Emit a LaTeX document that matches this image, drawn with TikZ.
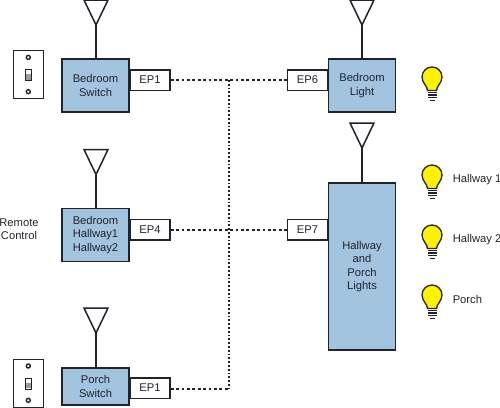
\documentclass[tikz,border=0pt]{standalone}
\usepackage{fontspec}
\setmainfont{Liberation Sans}
\usepackage{tikz}
\definecolor{boxblue}{HTML}{A3C4DF}
\definecolor{linedark}{HTML}{20232B}
\definecolor{bulbyellow}{HTML}{FFF200}

\begin{document}
\begin{tikzpicture}[x=1pt,y=-1pt,line width=1.5pt,
    every node/.style={text=linedark,font=\fontsize{11.2}{13.5}\selectfont,align=center},
    pics/antenna/.style={code={
      \draw[linedark,line join=miter] (-12,0) -- (12,0) -- (0,25) -- cycle;
      \coordinate (-apex) at (0,25);
    }},
    pics/bulb/.style={code={
      \draw[linedark,fill=bulbyellow,line width=1.3pt] (-4.5,12.5) .. controls (-4.5,8) and (-10,5) .. (-10,-1)
        arc (180:360:10) .. controls (10,5) and (4.5,8) .. (4.5,12.5) -- cycle;
      \foreach \y in {14.5,17,19.5} \draw[linedark,line width=1.4pt] (-4.5,\y) -- (4.5,\y);
      \draw[linedark,line width=1.6pt] (-2.5,22.5) -- (2.5,22.5);
    }},
    pics/plate/.style={code={
      \draw[linedark] (-15,-24) rectangle (15,24);
      \draw[linedark,line width=1.4pt] (0,-17.3) circle (2);
      \draw[linedark,line width=1.4pt] (0,17) circle (2);
      \draw[linedark,line width=0.6pt,fill=white] (-2.7,-5.5) rectangle (2.7,5.5);
      \fill[linedark!45] (-2.2,-0.5) rectangle (2.2,5);
    }}]
  \tikzstyle{unit}=[rectangle,draw=linedark,fill=boxblue,minimum width=67pt,minimum height=53pt,inner sep=0pt]
  \tikzstyle{endpoint}=[rectangle,draw=linedark,fill=white,minimum width=40pt,minimum height=20.5pt,inner sep=0pt]
  \tikzstyle{link}=[linedark,line width=1.2pt,dash pattern=on 2.8pt off 2.6pt]
  \tikzstyle{buslink}=[linedark,line width=1.2pt,dash pattern=on 1.8pt off 2pt]
  \tikzstyle{caption}=[inner sep=0pt]
  \clip (0,0) rectangle (500,407);

  % left column
  \node[endpoint] (ep1a) at (150,80) {EP1};
  \node[unit] (bedswitch) at (95.5,85.5) {Bedroom\\Switch};
  \pic (antA) at (96,0) {antenna};
  \draw[linedark] (antA-apex) -- (bedswitch.north -| antA-apex);
  \pic at (28.3,74.7) {plate};

  \node[endpoint] (ep4) at (150,229.9) {EP4};
  \node[unit] (remote) at (95.5,235) {Bedroom\\Hallway1\\Hallway2};
  \pic (antB) at (96,149.5) {antenna};
  \draw[linedark] (antB-apex) -- (remote.north -| antB-apex);
  \node[caption] (remotelabel) at (19,229) {Remote\\Control};

  \node[endpoint] (ep1b) at (150,388) {EP1};
  \node[unit,minimum height=37pt] (porchswitch) at (95.5,386.5) {Porch\\Switch};
  \pic (antC) at (96,308) {antenna};
  \draw[linedark] (antC-apex) -- (porchswitch.north -| antC-apex);
  \pic at (28.3,383.3) {plate};

  % right column
  \node[endpoint] (ep6) at (307.5,80) {EP6};
  \node[unit] (bedlight) at (362,85.5) {Bedroom\\Light};
  \pic (antD) at (362,0) {antenna};
  \draw[linedark] (antD-apex) -- (bedlight);

  \node[endpoint] (ep7) at (307.5,229.9) {EP7};
  \node[unit,minimum height=167pt] (hallway) at (362,266.5) {Hallway\\and\\Porch\\Lights};
  \pic (antE) at (362,123) {antenna};
  \draw[linedark] (antE-apex) -- (hallway);

  % lamps
  \pic at (432,78) {bulb};
  \pic at (432,176) {bulb};
  \pic at (432,236) {bulb};
  \pic at (432,296) {bulb};
  \node[caption,anchor=west] (hall1) at (452,180) {Hallway 1};
  \node[caption,anchor=west] (hall2) at (452,240) {Hallway 2};
  \node[caption,anchor=west] (porch) at (452,299) {Porch};

  % wiring
  \coordinate (bustop) at (229,80);
  \coordinate (busbottom) at (229,389);
  \draw[link] (ep1a) -- (ep6);
  \draw[link] (ep4) -- (ep7);
  \draw[link] (ep1b.east |- busbottom) -- (busbottom);
  \draw[buslink] (bustop) -- (busbottom);
\end{tikzpicture}
\end{document}
